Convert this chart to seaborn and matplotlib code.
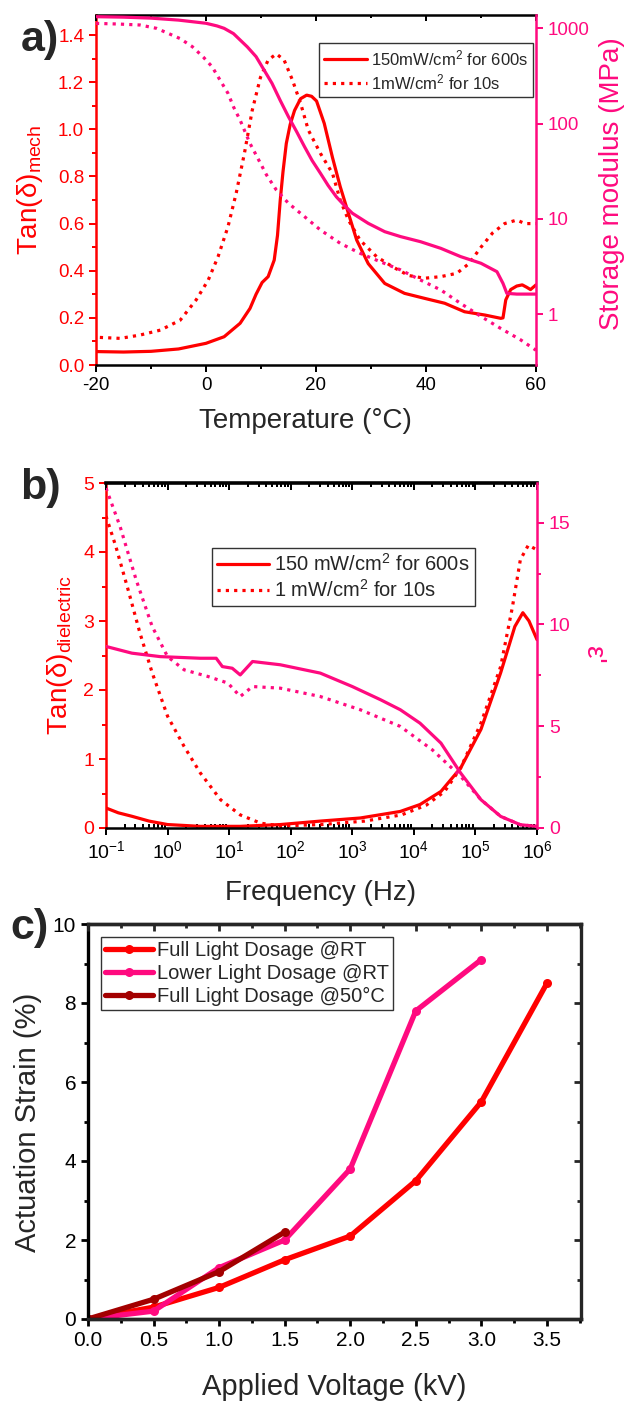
import numpy as np
import pandas as pd
import matplotlib
matplotlib.use('Agg')
import matplotlib.pyplot as plt
import seaborn as sns
from matplotlib.ticker import MultipleLocator, FixedLocator, FuncFormatter, LogLocator, NullFormatter

# ---------------- data: panel a ----------------
temp_a_solid = [-20, -15, -10, -5, 0, 3.3, 6.2, 8, 9.1, 10.2, 11.3, 12.4, 13.0, 13.5, 14.0, 14.6, 15.3, 16.1,
                17.2, 18.3, 19.2, 20.1, 21.5, 23, 24.4, 25.9, 27.4, 29.5, 32.5, 36.1, 39.7, 43.4, 47, 50.7,
                53.6, 54.0, 54.5, 55.4, 56.5, 57.5, 58.3, 59, 60]
tan_a_solid = [0.057, 0.055, 0.058, 0.068, 0.092, 0.12, 0.177, 0.24, 0.30, 0.35, 0.375, 0.445, 0.55, 0.70,
               0.82, 0.94, 1.02, 1.08, 1.13, 1.145, 1.14, 1.12, 1.025, 0.88, 0.757, 0.643, 0.53, 0.43,
               0.346, 0.304, 0.283, 0.262, 0.226, 0.212, 0.198, 0.20, 0.276, 0.32, 0.335, 0.34, 0.33,
               0.32, 0.34]
temp_a_dot = [-19.3, -15.6, -12, -8.3, -4.7, -1.8, 0.4, 2.2, 4, 5.5, 7, 8.4, 9.9, 11.3, 12.8, 14.2, 15.7,
              17.2, 18.6, 20.8, 23, 24.4, 25.9, 28, 31, 33.9, 36.8, 39.7, 42.7, 45.6, 47.8, 50, 52.1, 54.3,
              56.5, 58, 60]
tan_a_dot = [0.117, 0.113, 0.127, 0.148, 0.19, 0.276, 0.36, 0.46, 0.587, 0.73, 0.9, 1.08, 1.22, 1.294,
             1.32, 1.294, 1.21, 1.11, 0.997, 0.898, 0.813, 0.70, 0.615, 0.53, 0.46, 0.417, 0.38, 0.368,
             0.375, 0.389, 0.43, 0.50, 0.56, 0.60, 0.615, 0.60, 0.60]
temp_E_solid = [-20, -15, -10, -5, 0, 2, 3.3, 5, 6.2, 7.5, 9.1, 10.5, 12, 13.5, 15, 16.5, 17.9, 19.3, 20.8,
                22.2, 23.7, 25.2, 26.6, 29.5, 32.5, 35.4, 39, 42.7, 46.3, 50, 52.9, 54, 54.7, 56.5, 60]
E_solid = [1325, 1310, 1280, 1220, 1130, 1060, 1000, 880, 755, 640, 505, 370, 265, 175, 118, 82, 57.5, 41,
           30.2, 22.5, 17.1, 13.8, 11.5, 9.0, 7.36, 6.53, 5.78, 4.92, 4.03, 3.43, 2.8, 2.11, 1.66, 1.63, 1.63]
temp_E_dot = [-20, -16, -12, -9, -6.9, -4.7, -2.5, -0.5, 1.1, 2.5, 4, 5, 6.2, 8, 9.9, 11, 12.8, 15, 17.9,
              20.8, 24.4, 28, 31.7, 35.4, 39, 42.7, 46.3, 50, 53.6, 57.2, 60]
E_dot = [1127, 1110, 1084, 1000, 887, 780, 643, 500, 396, 290, 208, 150, 109, 62, 38.4, 29, 20.1, 14.6,
         10.6, 7.67, 5.56, 4.37, 3.56, 2.92, 2.29, 1.80, 1.30, 0.95, 0.71, 0.54, 0.42]
legend_a = ['150mW/cm$^2$ for 600s', '1mW/cm$^2$ for 10s']

# ---------------- data: panel b (frequency as log10 exponent) ----------------
fb_tan_solid_exp = [-1, -0.8, -0.58, -0.3, 0, 0.53, 1.18, 1.83, 2.48, 3.13, 3.78, 4.1, 4.44, 4.76, 5.09,
                    5.41, 5.64, 5.77, 5.87, 6]
tan_b_solid = [0.29, 0.22, 0.17, 0.10, 0.05, 0.024, 0.024, 0.05, 0.10, 0.145, 0.24, 0.34, 0.53, 0.87, 1.43,
               2.25, 2.92, 3.12, 3.0, 2.73]
fb_tan_dot_exp = [-1, -0.84, -0.64, -0.45, -0.25, 0, 0.27, 0.53, 0.86, 1.18, 1.51, 1.83, 2.5, 3.2, 3.8,
                  4.2, 4.5, 4.76, 5.09, 5.41, 5.6, 5.73, 5.86, 6]
tan_b_dot = [4.52, 4.08, 3.45, 2.83, 2.25, 1.62, 1.18, 0.80, 0.41, 0.19, 0.07, 0.03, 0.05, 0.10, 0.19,
             0.33, 0.53, 0.87, 1.52, 2.34, 3.2, 3.89, 4.1, 4.03]
fb_eps_solid_exp = [-1, -0.58, -0.12, 0.53, 0.79, 0.89, 1.05, 1.18, 1.38, 1.83, 2.48, 3.0, 3.46, 3.78, 4.1,
                    4.44, 4.76, 5.09, 5.41, 5.73, 6]
eps_solid = [8.92, 8.59, 8.42, 8.34, 8.34, 7.93, 7.85, 7.52, 8.18, 8.02, 7.61, 6.95, 6.3, 5.81, 5.15, 4.17,
             2.70, 1.39, 0.57, 0.16, 0.08]
fb_eps_dot_exp = [-1, -0.77, -0.51, -0.25, 0, 0.27, 0.66, 0.98, 1.18, 1.38, 1.83, 2.48, 3.13, 3.78, 4.3,
                  4.76, 5.09, 5.41, 5.73, 6]
eps_dot = [16.7, 14.8, 12.19, 9.9, 8.42, 7.77, 7.44, 7.12, 6.46, 6.95, 6.87, 6.46, 5.81, 4.99, 3.84, 2.54,
           1.39, 0.57, 0.16, 0.08]
legend_b = ['150 mW/cm$^2$ for 600s', '1 mW/cm$^2$ for 10s']

# ---------------- data: panel c ----------------
volt_full_rt = [0, 0.5, 1.0, 1.5, 2.0, 2.5, 3.0, 3.5]
strain_full_rt = [0, 0.3, 0.8, 1.5, 2.1, 3.5, 5.5, 8.5]
volt_lower_rt = [0, 0.5, 1.0, 1.5, 2.0, 2.5, 3.0]
strain_lower_rt = [0, 0.2, 1.3, 2.0, 3.8, 7.8, 9.1]
volt_full_50 = [0, 0.5, 1.0, 1.5]
strain_full_50 = [0, 0.5, 1.2, 2.2]
legend_c = ['Full Light Dosage @RT', 'Lower Light Dosage @RT', 'Full Light Dosage @50°C']

RED = '#FF0000'
PINK = '#FF0A7F'
DARK = '#A30000'

sns.set_style('ticks')
plt.rcParams['font.family'] = ['Liberation Sans', 'DejaVu Sans']
plt.rcParams['mathtext.fontset'] = 'custom'
plt.rcParams['mathtext.rm'] = 'Liberation Sans'
plt.rcParams['mathtext.it'] = 'Liberation Sans:italic'
plt.rcParams['mathtext.bf'] = 'Liberation Sans:bold'
plt.rcParams['mathtext.default'] = 'regular'
plt.rcParams['axes.unicode_minus'] = False

W, H = 627, 1404
fig = plt.figure(figsize=(W / 100, H / 100), dpi=100)


def rect(l, r, t, b):
    return [l / W, 1 - b / H, (r - l) / W, (b - t) / H]


DOT = (0, (1, 1.6))


def draw(ax, x, y, color, ls='-', lw=2.3, **kw):
    sns.lineplot(x=np.asarray(x, float), y=np.asarray(y, float), ax=ax, color=color, linestyle=ls,
                 linewidth=lw, sort=False, estimator=None, legend=False, **kw)
    return ax.lines[-1]


# ======================= panel a =======================
axA = fig.add_axes(rect(96, 536, 15, 365))
axA2 = axA.twinx()
la1 = draw(axA, temp_a_solid, tan_a_solid, RED)
la2 = draw(axA, temp_a_dot, tan_a_dot, RED, ls=DOT)
draw(axA2, temp_E_solid, E_solid, PINK)
draw(axA2, temp_E_dot, E_dot, PINK, ls=DOT)
axA.set_xlim(-20, 60)
axA.set_ylim(0, 1.485)
axA2.set_yscale('log')
axA2.set_ylim(0.294, 1380)
axA.xaxis.set_major_locator(FixedLocator([-20, 0, 20, 40, 60]))
axA.xaxis.set_minor_locator(MultipleLocator(10))
axA.yaxis.set_major_locator(MultipleLocator(0.2))
axA.yaxis.set_minor_locator(MultipleLocator(0.1))
axA.yaxis.set_major_formatter(FuncFormatter(lambda v, p: f'{v:.1f}'))
axA2.yaxis.set_major_locator(FixedLocator([1, 10, 100, 1000]))
axA2.yaxis.set_minor_locator(FixedLocator([]))
axA2.yaxis.set_major_formatter(FuncFormatter(lambda v, p: f'{v:g}'))

# ======================= panel b =======================
axB = fig.add_axes(rect(106, 537, 483, 828))
axB2 = axB.twinx()
fb1 = 10 ** np.array(fb_tan_solid_exp)
fb2 = 10 ** np.array(fb_tan_dot_exp)
fb3 = 10 ** np.array(fb_eps_solid_exp)
fb4 = 10 ** np.array(fb_eps_dot_exp)
lb1 = draw(axB, fb1, tan_b_solid, RED)
lb2 = draw(axB, fb2, tan_b_dot, RED, ls=DOT)
draw(axB2, fb3, eps_solid, PINK)
draw(axB2, fb4, eps_dot, PINK, ls=DOT)
axB.set_xscale('log')
axB.set_xlim(0.1, 1e6)
axB.set_ylim(0, 5)
axB2.set_ylim(0, 16.95)
axB.xaxis.set_major_locator(LogLocator(base=10, numticks=20))
axB.xaxis.set_minor_locator(LogLocator(base=10, subs=np.arange(2, 10), numticks=20))
axB.xaxis.set_minor_formatter(NullFormatter())
axB.yaxis.set_major_locator(MultipleLocator(1))
axB.yaxis.set_minor_locator(MultipleLocator(0.5))
axB2.yaxis.set_major_locator(MultipleLocator(5))
axB2.yaxis.set_minor_locator(MultipleLocator(2.5))

# ======================= panel c =======================
axC = fig.add_axes(rect(88, 581, 924, 1319))
axC2 = axC.twinx()
mk = dict(marker='o', markersize=6.5, markeredgewidth=0)
lc1 = draw(axC, volt_full_rt, strain_full_rt, RED, lw=3.8, **mk)
lc2 = draw(axC, volt_lower_rt, strain_lower_rt, PINK, lw=3.8, **mk)
lc3 = draw(axC, volt_full_50, strain_full_50, DARK, lw=3.8, **mk)
axC.set_xlim(0, 3.76)
axC.set_ylim(0, 10)
axC2.set_ylim(0, 10)
axC.xaxis.set_major_locator(MultipleLocator(0.5))
axC.xaxis.set_minor_locator(MultipleLocator(0.25))
axC.xaxis.set_major_formatter(FuncFormatter(lambda v, p: f'{v:.1f}'))
for a in (axC, axC2):
    a.yaxis.set_major_locator(MultipleLocator(2))
    a.yaxis.set_minor_locator(MultipleLocator(1))

# ======================= styling =======================
def style_pair(ax, ax2, lcol, rcol, sw, tsize, ymajlen=5):
    for s in ('left', 'right', 'top', 'bottom'):
        ax.spines[s].set_linewidth(sw)
        ax2.spines[s].set_linewidth(sw)
        ax.spines[s].set_color('black')
        ax2.spines[s].set_color('black')
    ax.spines['left'].set_color(lcol)
    ax2.spines['right'].set_color(rcol)
    ax.spines['right'].set_visible(False)
    ax2.spines['left'].set_visible(False)
    ax2.spines['top'].set_visible(False)
    ax2.spines['bottom'].set_visible(False)
    ax.tick_params(axis='y', which='both', colors=lcol, direction='out', labelsize=tsize, width=sw * 0.8)
    ax.tick_params(axis='y', which='major', length=ymajlen)
    ax.tick_params(axis='y', which='minor', length=3)
    ax2.tick_params(axis='y', which='both', colors=rcol, direction='out', labelsize=tsize, width=sw * 0.8)
    ax2.tick_params(axis='y', which='major', length=ymajlen)
    ax2.tick_params(axis='y', which='minor', length=3)
    ax.tick_params(axis='x', which='both', colors='black', direction='out', labelsize=tsize,
                   width=sw * 0.8, top=False, bottom=True)
    ax.tick_params(axis='x', which='major', length=5)
    ax.tick_params(axis='x', which='minor', length=3)
    # top ticks inward via twin's x-axis
    ax2.xaxis.set_visible(True)
    ax2.tick_params(axis='x', which='both', direction='in', top=True, bottom=False, labeltop=False,
                    labelbottom=False, width=sw * 0.8, colors='black')
    ax2.tick_params(axis='x', which='major', length=4)
    ax2.tick_params(axis='x', which='minor', length=2.5)


style_pair(axA, axA2, RED, PINK, 1.8, 13.5)
style_pair(axB, axB2, RED, PINK, 1.8, 14)
axB.tick_params(axis='x', which='minor', direction='in', length=3)
axB2.tick_params(axis='x', which='major', length=5)
axB2.tick_params(axis='x', which='minor', length=3)
axB.spines['top'].set_linewidth(2.6)

# panel c: black box, left/bottom ticks out, right/top ticks in
for s in ('left', 'right', 'top', 'bottom'):
    axC.spines[s].set_linewidth(2.4)
    axC.spines[s].set_color('black')
    axC2.spines[s].set_linewidth(2.4)
axC2.spines['left'].set_visible(False)
axC.spines['right'].set_visible(False)
axC.tick_params(axis='both', which='both', direction='out', labelsize=15, width=2, colors='black',
                top=False, right=False)
axC.tick_params(axis='both', which='major', length=5)
axC.tick_params(axis='both', which='minor', length=3)
axC2.tick_params(axis='y', which='both', direction='in', labelright=False, right=True, width=2)
axC2.tick_params(axis='y', which='major', length=5)
axC2.tick_params(axis='y', which='minor', length=3)
axC2.xaxis.set_visible(True)
axC2.tick_params(axis='x', which='both', direction='in', top=True, bottom=False, labeltop=False,
                 labelbottom=False, width=2)
axC2.tick_params(axis='x', which='major', length=5)
axC2.tick_params(axis='x', which='minor', length=3)

for a in (axA, axA2, axB, axB2, axC, axC2):
    a.set_xlabel('')
    a.set_ylabel('')

# ======================= legends =======================
legA = axA2.legend(handles=[la1, la2], labels=legend_a, loc='upper left', bbox_to_anchor=(0.507, 0.92),
                   borderaxespad=0, fontsize=12, frameon=True, fancybox=False, framealpha=1,
                   edgecolor='#333333', handlelength=2.6, handletextpad=0.2, borderpad=0.3,
                   labelspacing=0.25)
legA.get_frame().set_linewidth(1.0)
legB = axB2.legend(handles=[lb1, lb2], labels=legend_b, loc='upper left', bbox_to_anchor=(0.246, 0.812),
                   borderaxespad=0, fontsize=14.5, frameon=True, fancybox=False, framealpha=1,
                   edgecolor='#333333', handlelength=2.6, handletextpad=0.25, borderpad=0.25,
                   labelspacing=0.2)
legB.get_frame().set_linewidth(1.0)
legC = axC2.legend(handles=[lc1, lc2, lc3], labels=legend_c, loc='upper left',
                   bbox_to_anchor=(0.026, 0.967), borderaxespad=0, fontsize=14.5, frameon=True,
                   fancybox=False, framealpha=1, edgecolor='#333333', handlelength=2.4,
                   handletextpad=0.2, borderpad=0.2, labelspacing=0.2, numpoints=1)
legC.get_frame().set_linewidth(1.0)

# ======================= axis labels =======================
def ftext(x, y, s, **kw):
    fig.text(x / W, 1 - y / H, s, ha='center', va='center', **kw)


ftext(305, 421, 'Temperature (°C)', fontsize=20)
ftext(30, 190, 'Tan(δ)$_{mech}$', fontsize=20, rotation=90, color=RED)
ftext(612, 184, 'Storage modulus (MPa)', fontsize=20, rotation=90, color=PINK)
ftext(321, 893, 'Frequency (Hz)', fontsize=20)
ftext(60, 655, 'Tan(δ)$_{dielectric}$', fontsize=20, rotation=90, color=RED)
ftext(593, 655, "ε'", fontsize=20, rotation=270, color=PINK)
ftext(334, 1387, 'Applied Voltage (kV)', fontsize=21)
ftext(28, 1122, 'Actuation Strain (%)', fontsize=21, rotation=90)

# panel letters
ftext(40, 40, 'a)', fontsize=31, fontweight='bold')
ftext(40, 488, 'b)', fontsize=31, fontweight='bold')
ftext(30, 928, 'c)', fontsize=31, fontweight='bold')

fig.savefig('out.png', dpi=100)
